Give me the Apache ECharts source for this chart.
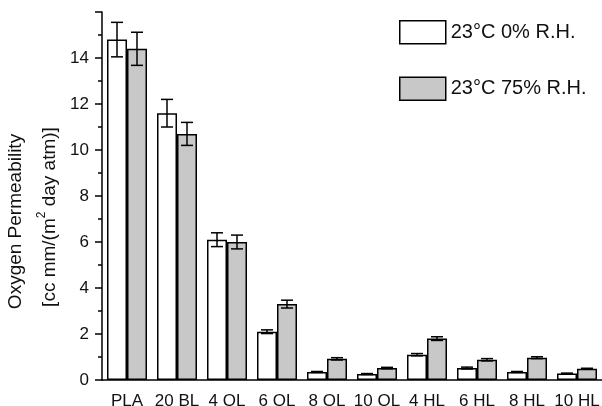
<!DOCTYPE html>
<html>
<head>
<meta charset="utf-8">
<script src="https://cdn.jsdelivr.net/npm/echarts@6/dist/echarts.min.js"></script>
<style>html,body{margin:0;padding:0;background:#fff}#c{width:602px;height:406px}</style>
</head>
<body>
<div id="c"></div>
<script>
const categories = ['PLA', '20 BL', '4 QL', '6 QL', '8 QL', '10 QL', '4 HL', '6 HL', '8 HL', '10 HL'];
const seriesNames = ['23°C 0% R.H.', '23°C 75% R.H.'];
const dryValues = [14.8, 11.6, 6.1, 2.1, 0.35, 0.26, 1.1, 0.52, 0.35, 0.28];
const dryErrors = [0.75, 0.6, 0.3, 0.08, 0.02, 0.02, 0.05, 0.04, 0.02, 0.02];
const humidValues = [14.4, 10.7, 6.0, 3.3, 0.92, 0.52, 1.8, 0.88, 0.97, 0.49];
const humidErrors = [0.72, 0.5, 0.3, 0.17, 0.05, 0.03, 0.08, 0.05, 0.04, 0.02];
const yTicks = [0, 2, 4, 6, 8, 10, 12, 14];

const FONT = 'Arial, "Liberation Sans", sans-serif';
const chart = echarts.init(document.getElementById('c'), null, {renderer: 'canvas'});

function errData(vals, errs) {
  return vals.map((v, i) => [i, v, errs[i]]);
}
function errorRender(side) {
  return function (params, api) {
    const idx = api.value(0), v = api.value(1), e = api.value(2);
    const off = api.size([1, 0])[0] * 0.2 * side;
    const top = api.coord([idx, v + e]);
    const bot = api.coord([idx, v - e]);
    const x = top[0] + off;
    const hw = 6;
    const st = {stroke: '#000', lineWidth: 1.5};
    return {
      type: 'group',
      children: [
        {type: 'line', shape: {x1: x, y1: top[1], x2: x, y2: bot[1]}, style: st},
        {type: 'line', shape: {x1: x - hw, y1: top[1], x2: x + hw, y2: top[1]}, style: st},
        {type: 'line', shape: {x1: x - hw, y1: bot[1], x2: x + hw, y2: bot[1]}, style: st}
      ]
    };
  };
}

chart.setOption({
  animation: false,
  textStyle: {fontFamily: FONT},
  grid: {left: 102, right: 0, top: 12, bottom: 26, containLabel: false, outerBoundsMode: 'none'},
  legend: {
    orient: 'vertical', left: 399, top: 20, padding: 0,
    itemWidth: 46, itemHeight: 23, itemGap: 32, itemTextGap: 5,
    icon: 'rect',
    itemStyle: {borderColor: '#000', borderWidth: 1.5},
    textStyle: {fontSize: 20, color: '#111', fontFamily: FONT},
    data: seriesNames
  },
  xAxis: [{
    type: 'category', data: categories,
    axisLine: {lineStyle: {color: '#000', width: 1.5}},
    axisTick: {alignWithLabel: true, length: 7, lineStyle: {color: '#000', width: 1.5}},
    axisLabel: {interval: 0, fontSize: 17, color: '#111', margin: 13, fontFamily: FONT},
    splitLine: {show: false}
  }, {
    type: 'category', data: categories, position: 'bottom',
    axisLine: {show: false},
    axisTick: {alignWithLabel: false, length: 4, lineStyle: {color: '#000', width: 1.5}},
    axisLabel: {show: false},
    splitLine: {show: false}
  }],
  yAxis: {
    type: 'value', min: 0, max: 16, interval: 2,
    axisLine: {show: true, lineStyle: {color: '#000', width: 1.5}},
    axisTick: {show: true, length: 7, lineStyle: {color: '#000', width: 1.5}},
    minorTick: {show: true, splitNumber: 2, length: 4, lineStyle: {color: '#000', width: 1.5}},
    splitLine: {show: false},
    axisLabel: {
      fontSize: 17, color: '#111', margin: 13, fontFamily: FONT,
      formatter: v => (yTicks.indexOf(v) >= 0 ? String(v) : '')
    },
    name: '{a|Oxygen Permeability}\n{b|[cc mm/(m}{sup|2}{b| day atm)]}',
    nameLocation: 'middle', nameRotate: 90, nameGap: 16,
    nameTextStyle: {
      fontSize: 19, color: '#111', fontFamily: FONT,
      padding: [0, 42, 0, 0],
      rich: {
        a: {fontSize: 19, lineHeight: 34, color: '#111', fontFamily: FONT, padding: [0, 9, 0, 0]},
        b: {fontSize: 19, lineHeight: 34, color: '#111', fontFamily: FONT},
        sup: {fontSize: 12, lineHeight: 34, color: '#111', fontFamily: FONT, verticalAlign: 'top', padding: [3, 0, 0, 0]}
      }
    }
  },
  series: [
    {
      name: seriesNames[0], type: 'bar', data: dryValues,
      barWidth: 20, barGap: '0%',
      itemStyle: {color: '#ffffff', borderColor: '#000', borderWidth: 1.5}
    },
    {
      name: seriesNames[1], type: 'bar', data: humidValues,
      barWidth: 20, barGap: '0%',
      itemStyle: {color: '#c8c8c8', borderColor: '#000', borderWidth: 1.5}
    },
    {
      type: 'custom', name: 'err0', data: errData(dryValues, dryErrors),
      renderItem: errorRender(-1), encode: {x: 0, y: 1}, z: 5
    },
    {
      type: 'custom', name: 'err1', data: errData(humidValues, humidErrors),
      renderItem: errorRender(1), encode: {x: 0, y: 1}, z: 5
    }
  ]
});
</script>
</body>
</html>
